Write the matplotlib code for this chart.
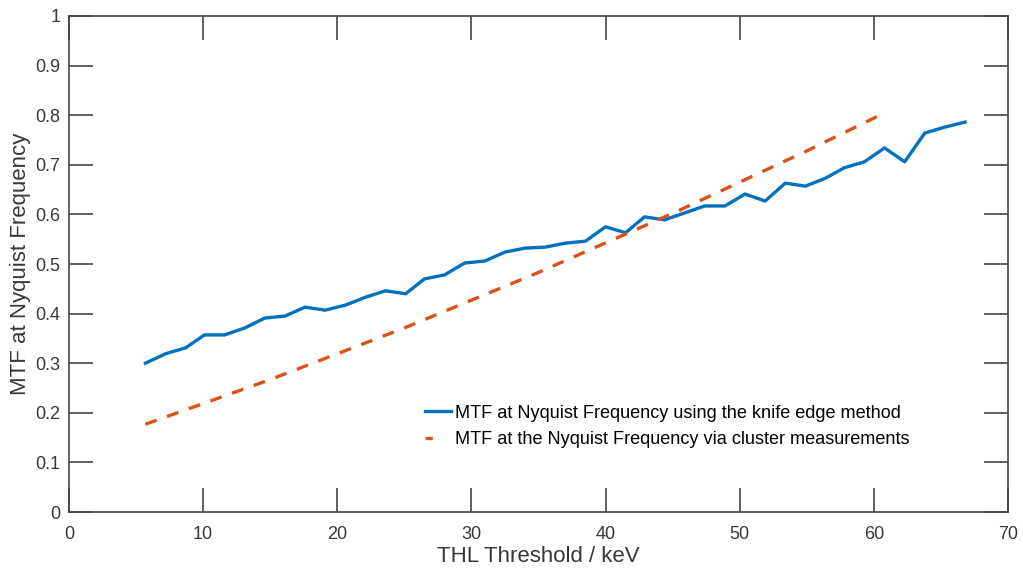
import numpy as np
import matplotlib.pyplot as plt
from matplotlib.lines import Line2D

plt.rcParams['font.family'] = ['Liberation Sans', 'DejaVu Sans']

# THL threshold (keV) and MTF from the knife edge method
thl = [5.7, 7.2, 8.7, 10.1, 11.6, 13.1, 14.6, 16.1, 17.6, 19.1, 20.6, 22.1,
       23.6, 25.1, 26.5, 28.0, 29.5, 31.0, 32.5, 34.0, 35.5, 37.0, 38.5, 40.0,
       41.5, 42.9, 44.4, 45.9, 47.4, 48.9, 50.4, 51.9, 53.4, 54.9, 56.4, 57.8,
       59.3, 60.8, 62.3, 63.8, 65.3, 66.8]
mtf_knife = [0.300, 0.319, 0.331, 0.357, 0.357, 0.371, 0.391, 0.395, 0.413, 0.407,
             0.417, 0.433, 0.446, 0.440, 0.470, 0.478, 0.502, 0.506, 0.524, 0.532,
             0.534, 0.542, 0.546, 0.575, 0.563, 0.595, 0.589, 0.603, 0.617, 0.617,
             0.641, 0.627, 0.663, 0.657, 0.673, 0.694, 0.706, 0.734, 0.706, 0.764,
             0.776, 0.786]

# cluster measurement curve
thl_cluster = [5.7, 15.0, 25.0, 35.0, 45.0, 55.0, 60.3]
mtf_cluster = [0.177, 0.267, 0.371, 0.483, 0.602, 0.728, 0.798]

blue = '#0072BD'
orange = '#D95319'
axcol = '#454545'

label_knife = 'MTF at Nyquist Frequency using the knife edge method'
label_cluster = 'MTF at the Nyquist Frequency via cluster measurements'

fig = plt.figure(figsize=(10.23, 5.71), dpi=100)
ax = fig.add_axes([0.0674, 0.1033, 0.9853 - 0.0674, 0.972 - 0.1033])

ax.plot(thl, mtf_knife, color=blue, lw=2.4)
ax.plot(thl_cluster, mtf_cluster, color=orange, lw=2.4, dashes=(3.6, 3.3))

ax.set_xlim(0, 70)
ax.set_ylim(0, 1)
ax.set_xticks(np.arange(0, 71, 10))
ax.set_yticks(np.arange(0, 1.01, 0.1))
ax.set_yticklabels(['0', '0.1', '0.2', '0.3', '0.4', '0.5', '0.6', '0.7', '0.8', '0.9', '1'])

ax.tick_params(direction='in', top=True, right=True, length=17, width=1.2,
               color=axcol, labelcolor='#383838', labelsize=13)
ax.tick_params(axis='x', pad=10)
ax.tick_params(axis='y', pad=6)
for s in ax.spines.values():
    s.set_color(axcol)
    s.set_linewidth(1.2)

ax.set_xlabel('THL Threshold / keV', fontsize=16, color='#383838', labelpad=2)
ax.set_ylabel('MTF at Nyquist Frequency', fontsize=16, color='#383838', labelpad=3)

# legend handles: the dashed one only shows its first dash
handles = [Line2D([], [], color=blue, lw=2.4),
           Line2D([], [], color=orange, lw=2.4, dashes=(2.2, 12))]
ax.legend(handles, [label_knife, label_cluster], loc='upper left',
          bbox_to_anchor=(0.399, 0.32), bbox_transform=fig.transFigure,
          frameon=False, fontsize=13.1, handlelength=1.45, handletextpad=0.2,
          labelspacing=0.52)

fig.savefig('out.png', dpi=100)
